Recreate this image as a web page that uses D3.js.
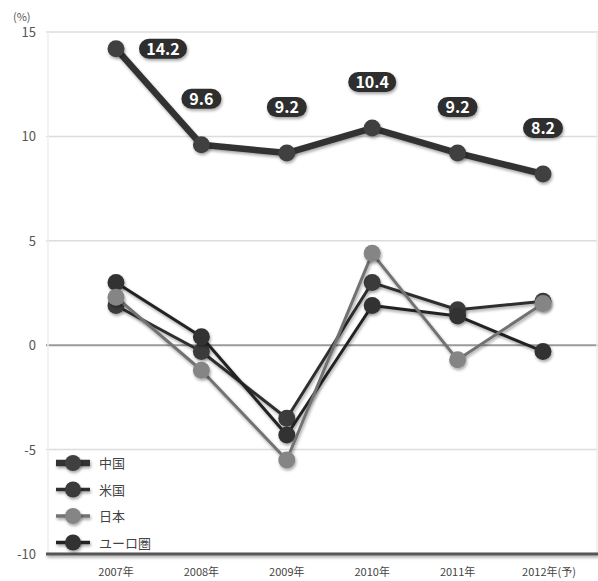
<!DOCTYPE html>
<html>
<head>
<meta charset="utf-8">
<script src="https://cdn.jsdelivr.net/npm/d3@7"></script>
<style>
  body { margin: 0; background: #fff; }
  svg { font-family: "Noto Sans CJK JP", "Noto Sans", sans-serif; }
</style>
</head>
<body>
<div id="chart"></div>
<script>
// ---------------- DATA ----------------
const years = ['2007年', '2008年', '2009年', '2010年', '2011年', '2012年(予)'];
const yTicks = [15, 10, 5, 0, -5, -10];
const seriesNames = ['中国', '米国', '日本', 'ユーロ圏'];
const china = [14.2, 9.6, 9.2, 10.4, 9.2, 8.2];
const usa = [1.9, -0.3, -3.5, 3.0, 1.7, 2.1];
const japan = [2.3, -1.2, -5.5, 4.4, -0.7, 2.0];
const euro = [3.0, 0.4, -4.3, 1.9, 1.4, -0.3];

// ---------------- CONSTANTS ----------------
const WIDTH = 598;
const HEIGHT = 581;
const PLOT_LEFT = 46;
const PLOT_RIGHT = 598;
const PLOT_TOP = 32;
const PLOT_BOTTOM = 554;

const svg = d3.select('#chart').append('svg')
  .attr('width', WIDTH)
  .attr('height', HEIGHT);

const defs = svg.append('defs');
const shadow = defs.append('filter').attr('id', 'shadow')
  .attr('filterUnits', 'userSpaceOnUse')
  .attr('x', 0).attr('y', 0).attr('width', WIDTH).attr('height', HEIGHT);
shadow.append('feDropShadow')
  .attr('dx', 1).attr('dy', 2).attr('stdDeviation', 1.6)
  .attr('flood-color', '#000').attr('flood-opacity', 0.35);

// ---------------- SCALES ----------------
const x = d3.scalePoint()
  .domain(years)
  .range([116, 543]);

const y = d3.scaleLinear()
  .domain([-10, 15])
  .range([PLOT_BOTTOM, PLOT_TOP]);

// ---------------- GRID ----------------
svg.append('g')
  .selectAll('line')
  .data(yTicks.filter(d => d !== -10))
  .join('line')
  .attr('x1', PLOT_LEFT)
  .attr('x2', PLOT_RIGHT)
  .attr('y1', d => y(d))
  .attr('y2', d => y(d))
  .attr('stroke', d => d === 0 ? '#9a9a9a' : '#dcdcdc')
  .attr('stroke-width', d => d === 0 ? 2 : 1.5);

// faint side borders
svg.append('line')
  .attr('x1', PLOT_LEFT + 2).attr('x2', PLOT_LEFT + 2)
  .attr('y1', y(15)).attr('y2', PLOT_BOTTOM)
  .attr('stroke', '#eeeeee').attr('stroke-width', 1.5);
svg.append('line')
  .attr('x1', PLOT_RIGHT - 1).attr('x2', PLOT_RIGHT - 1)
  .attr('y1', y(15)).attr('y2', PLOT_BOTTOM)
  .attr('stroke', '#eeeeee').attr('stroke-width', 1.5);

// bottom axis line
svg.append('line')
  .attr('x1', PLOT_LEFT).attr('x2', PLOT_RIGHT)
  .attr('y1', y(-10)).attr('y2', y(-10))
  .attr('stroke', '#555').attr('stroke-width', 3)
  .attr('filter', 'url(#shadow)');

// y tick labels
svg.append('g')
  .selectAll('text')
  .data(yTicks)
  .join('text')
  .attr('x', 36)
  .attr('y', d => y(d) + 5)
  .attr('text-anchor', 'end')
  .attr('font-size', 13)
  .attr('fill', '#555')
  .text(d => d);

svg.append('text')
  .attr('x', 13).attr('y', 21)
  .attr('font-size', 11)
  .attr('fill', '#555')
  .text('(%)');

// x tick labels
svg.append('g')
  .selectAll('text')
  .data(years)
  .join('text')
  .attr('x', d => x(d) + (d.length > 5 ? 6 : 0))
  .attr('y', 576)
  .attr('text-anchor', 'middle')
  .attr('font-size', 11)
  .attr('fill', '#444')
  .text(d => d);

// ---------------- LINES ----------------
const series = [
  { name: '米国', values: usa, line: '#2e2e2e', dot: '#3a3a3a', width: 3 },
  { name: 'ユーロ圏', values: euro, line: '#222', dot: '#333', width: 3 },
  { name: '日本', values: japan, line: '#727272', dot: '#858585', width: 3 },
  { name: '中国', values: china, line: '#333', dot: '#404040', width: 6.5 }
];

const lineGenerator = d3.line()
  .x((d, i) => x(years[i]))
  .y(d => y(d));

series.forEach(s => {
  const g = svg.append('g');
  g.append('path')
    .datum(s.values)
    .attr('d', lineGenerator)
    .attr('fill', 'none')
    .attr('stroke', s.line)
    .attr('stroke-width', s.width)
    .attr('stroke-linejoin', 'round')
    .attr('filter', 'url(#shadow)');
  g.selectAll('circle')
    .data(s.values)
    .join('circle')
    .attr('cx', (d, i) => x(years[i]))
    .attr('cy', d => y(d))
    .attr('r', 8.5)
    .attr('fill', s.dot)
    .attr('filter', 'url(#shadow)');
});

// ---------------- CHINA LABELS ----------------
const labelG = svg.append('g');
china.forEach((v, i) => {
  const cx = i === 0 ? x(years[i]) + 47 : x(years[i]);
  const cy = i === 0 ? y(v) : y(v) - 46;
  const txt = v.toFixed(1);
  const w = txt.length > 3 ? 48 : 40;
  labelG.append('rect')
    .attr('x', cx - w / 2)
    .attr('y', cy - 10)
    .attr('width', w)
    .attr('height', 20)
    .attr('rx', 10)
    .attr('fill', '#2e2e2e')
    .attr('filter', 'url(#shadow)');
  labelG.append('text')
    .attr('x', cx)
    .attr('y', cy + 6)
    .attr('text-anchor', 'middle')
    .attr('font-size', 16)
    .attr('font-weight', 'bold')
    .attr('fill', '#fff')
    .text(txt);
});

// ---------------- LEGEND ----------------
const legendOrder = [
  { name: '中国', line: '#333', dot: '#404040', width: 6.5 },
  { name: '米国', line: '#2e2e2e', dot: '#3a3a3a', width: 3.5 },
  { name: '日本', line: '#727272', dot: '#858585', width: 3.5 },
  { name: 'ユーロ圏', line: '#222', dot: '#333', width: 3.5 }
];
const legend = svg.append('g');
legendOrder.forEach((s, i) => {
  const ly = 463 + i * 26.5;
  legend.append('line')
    .attr('x1', 56).attr('x2', 90)
    .attr('y1', ly).attr('y2', ly)
    .attr('stroke', s.line)
    .attr('stroke-width', s.width)
    .attr('filter', 'url(#shadow)');
  legend.append('circle')
    .attr('cx', 73).attr('cy', ly)
    .attr('r', 8)
    .attr('fill', s.dot)
    .attr('filter', 'url(#shadow)');
  legend.append('text')
    .attr('x', 99).attr('y', ly + 5)
    .attr('font-size', 13)
    .attr('fill', '#444')
    .text(s.name);
});
</script>
</body>
</html>
